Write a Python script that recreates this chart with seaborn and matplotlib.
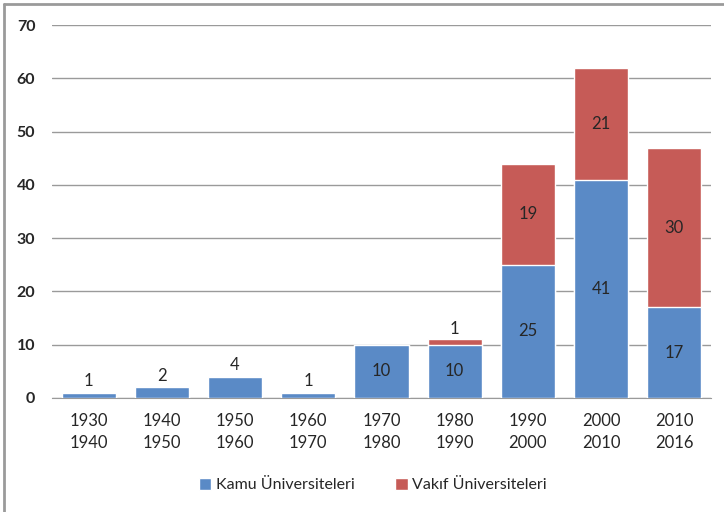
import numpy as np
import pandas as pd
import matplotlib
matplotlib.use("Agg")
import matplotlib.pyplot as plt
import seaborn as sns
from matplotlib.patches import Patch
from matplotlib.lines import Line2D

periods = ["1930\n1940", "1940\n1950", "1950\n1960", "1960\n1970", "1970\n1980",
           "1980\n1990", "1990\n2000", "2000\n2010", "2010\n2016"]
kamu = [1, 2, 4, 1, 10, 10, 25, 41, 17]
vakif = [0, 0, 0, 0, 0, 1, 19, 21, 30]

df = pd.DataFrame({"donem": periods, "kamu": kamu, "vakif": vakif})
df["toplam"] = df["kamu"] + df["vakif"]

sns.set_style("white")
plt.rcParams["font.family"] = ["Lato", "DejaVu Sans"]

blue = "#5A8AC6"
red = "#C65B57"

fig = plt.figure(figsize=(7.24, 5.12), dpi=100)
ax = fig.add_axes([0.0718, 0.2227, 0.9102, 0.7283])

# toplam once (kirmizi), sonra kamu (mavi) ustune
sns.barplot(data=df, x="donem", y="toplam", color=red, width=0.74,
            saturation=1, ax=ax, zorder=3)
sns.barplot(data=df, x="donem", y="kamu", color=blue, width=0.74,
            saturation=1, ax=ax, zorder=4)

ax.set_ylim(0, 70)
ax.set_yticks(range(0, 71, 10))
ax.set_xlim(-0.5, len(periods) - 0.5)
ax.yaxis.grid(True, color="#9A9A9A", linewidth=1)
ax.set_axisbelow(True)
for s in ["top", "right", "left"]:
    ax.spines[s].set_visible(False)
ax.spines["bottom"].set_color("#9A9A9A")
ax.set_xlabel("")
ax.set_ylabel("")
ax.tick_params(axis="y", length=0, pad=12, labelsize=11.5)
ax.tick_params(axis="x", length=0, pad=11, labelsize=12)
for t in ax.get_yticklabels():
    t.set_fontweight("bold")
for t in ax.get_xticklabels():
    t.set_linespacing(1.45)

# etiketler
for i in range(len(periods)):
    k = kamu[i]
    v = vakif[i]
    if k < 6:
        ax.text(i, k + 0.6, str(k), ha="center", va="bottom", fontsize=12, zorder=5)
    else:
        ax.text(i, k / 2, str(k), ha="center", va="center", fontsize=12, zorder=5)
    if v > 0:
        if v < 6:
            ax.text(i, k + v + 0.5, str(v), ha="center", va="bottom", fontsize=12, zorder=5)
        else:
            ax.text(i, k + v / 2, str(v), ha="center", va="center", fontsize=12, zorder=5)

handles = [Patch(facecolor=blue, label="Kamu Üniversiteleri"),
           Patch(facecolor=red, label="Vakıf Üniversiteleri")]
fig.legend(handles=handles, loc="center", bbox_to_anchor=(0.515, 0.053), ncol=2,
           frameon=False, fontsize=11.5, handlelength=0.8, handleheight=0.8,
           handletextpad=0.3, columnspacing=2.5)

# cerceve (ust ve sol)
fig.add_artist(Line2D([0.0055, 1.0], [0.9922, 0.9922], transform=fig.transFigure,
                      color="#9A9A9A", linewidth=2))
fig.add_artist(Line2D([0.0055, 0.0055], [0.0, 0.9922], transform=fig.transFigure,
                      color="#9A9A9A", linewidth=2))

fig.savefig("out.png", dpi=100)
